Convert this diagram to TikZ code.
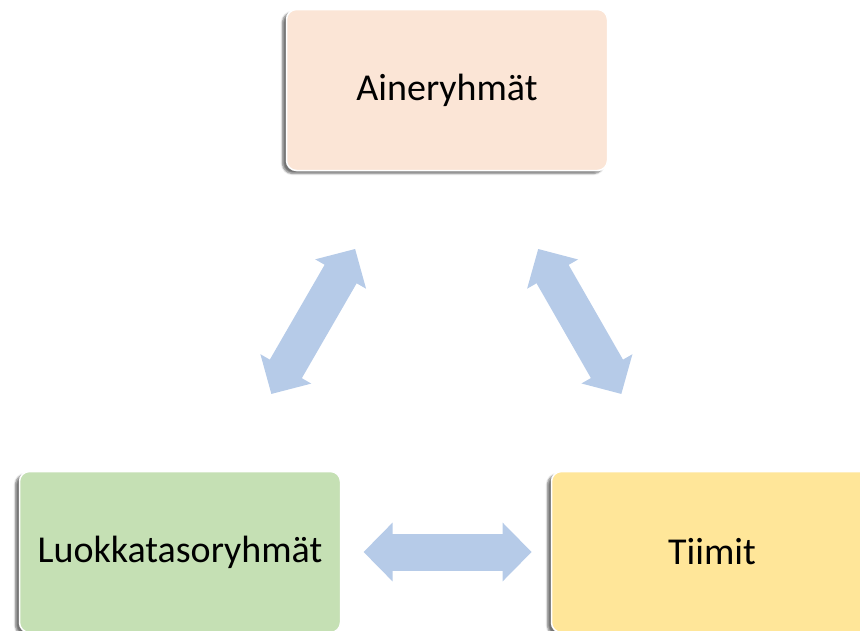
\documentclass[tikz,border=0pt]{standalone}
\usepackage{fontspec}
\setmainfont{Carlito}
\usetikzlibrary{arrows.meta,calc,shadows.blur}

\definecolor{peach}{HTML}{FBE5D6}
\definecolor{leaf}{HTML}{C5E0B4}
\definecolor{butter}{HTML}{FFE699}
\definecolor{sky}{HTML}{B6CBE8}

\begin{document}
\begin{tikzpicture}[x=1pt,y=-1pt,
    group/.style={rectangle,rounded corners=10pt,draw=white,line width=1.5pt,
        minimum width=321pt,minimum height=161pt,inner sep=0pt,
        font=\fontsize{38}{44}\selectfont,
        blur shadow={shadow xshift=-4pt,shadow yshift=-3pt,shadow blur steps=6,shadow opacity=55}},
    link/.style={line width=37pt,sky,{Triangle[length=29pt,width=57pt]}-{Triangle[length=29pt,width=57pt]}}]
    % Frame of the picture
    \path[use as bounding box,clip] (0,0) rectangle (860,630);

    % Draw groups
    \node[group,fill=peach] (aine) at (447,90) {Aineryhmät};
    \node[group,fill=leaf] (luokka) at (180,552) {Luokkatasoryhmät};
    \node[group,fill=butter] (tiimit) at (712,552) {Tiimit};

    % Draw links between groups
    \draw[link] ($(aine.center)!0.344!(luokka.center)$) -- ($(aine.center)!0.658!(luokka.center)$);
    \draw[link] ($(aine.center)!0.344!(tiimit.center)$) -- ($(aine.center)!0.658!(tiimit.center)$);
    \draw[link] ($(luokka.center)!0.345!(tiimit.center)$) -- ($(luokka.center)!0.661!(tiimit.center)$);
\end{tikzpicture}
\end{document}
